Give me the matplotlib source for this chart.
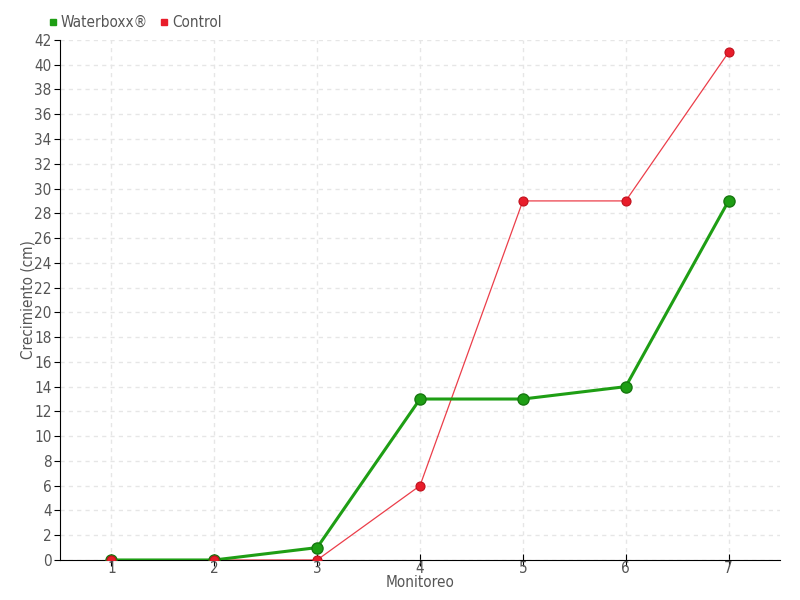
import matplotlib
matplotlib.use('Agg')
import matplotlib.pyplot as plt
from matplotlib.lines import Line2D

monitoreo = [1, 2, 3, 4, 5, 6, 7]
waterboxx = [0, 0, 1, 13, 13, 14, 29]
control = [0, 0, 0, 6, 29, 29, 41]
y_ticks = list(range(0, 43, 2))

green = '#1e9e14'
red = '#e81c2a'
text_gray = '#555555'

plt.rcParams['font.family'] = ['DejaVu Sans']
plt.rcParams['font.stretch'] = 'condensed'

fig = plt.figure(figsize=(8, 6), dpi=100)
ax = fig.add_axes([0.075, 0.0667, 0.9, 0.8667])

ax.plot(monitoreo, control, color=red, lw=0.9, alpha=0.85, zorder=2)
ax.plot(monitoreo, waterboxx, color=green, lw=2.2, zorder=3)
ax.plot(monitoreo, waterboxx, 'o', color=green, mec='#16780f', mew=1, ms=8, zorder=4)
ax.plot(monitoreo, control, 'o', color=red, mec='#c0101c', mew=0.8, ms=6.5, zorder=5)

ax.set_xlim(0.5, 7.5)
ax.set_ylim(0, 42)
ax.set_xticks(monitoreo)
ax.set_yticks(y_ticks)
ax.grid(True, color='#e6e6e6', linestyle=(0, (3, 3)), lw=1)
ax.set_axisbelow(True)

for s in ['top', 'right']:
    ax.spines[s].set_visible(False)
ax.spines['left'].set_color('black')
ax.spines['bottom'].set_color('black')

ax.tick_params(axis='y', direction='out', length=4, colors='black', labelcolor=text_gray, labelsize=11, pad=2)
ax.tick_params(axis='x', direction='inout', length=8, colors='black', labelcolor=text_gray, labelsize=11, pad=-3)

ax.set_xlabel('Monitoreo', color=text_gray, fontsize=11, labelpad=-1)
ax.set_ylabel('Crecimiento (cm)', color=text_gray, fontsize=11, va='center')
ax.yaxis.set_label_coords(-0.044, 0.5)

handles = [Line2D([], [], marker='s', ls='', color=green, ms=5),
           Line2D([], [], marker='s', ls='', color=red, ms=5)]
leg = fig.legend(handles, ['Waterboxx®', 'Control'], loc='upper left',
                 bbox_to_anchor=(0.043, 0.998), ncol=2, frameon=False,
                 fontsize=11, handlelength=0.6, handletextpad=0.2,
                 columnspacing=0.8, labelcolor=text_gray)

fig.savefig('out.png', dpi=100, facecolor='white')
